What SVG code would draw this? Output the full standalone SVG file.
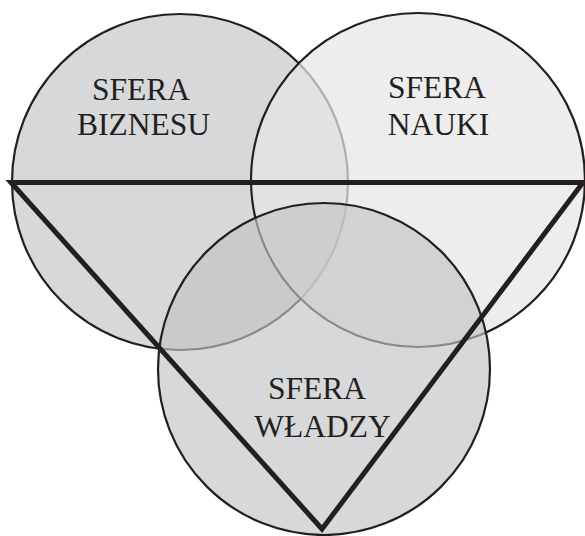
<svg xmlns="http://www.w3.org/2000/svg" width="585" height="536" viewBox="0 0 585 536">
<style>
.c{stroke:#231f20;stroke-width:2.2}
.t{font-family:"Liberation Serif","Times New Roman",serif;font-size:31.5px;fill:#231f20;text-anchor:middle}
</style>
<rect width="585" height="536" fill="#ffffff"/>
<g id="biznes">
<circle class="c" cx="180" cy="182" r="168" fill="#d7d8da"/>
<text class="t" x="141" y="100">SFERA</text>
<text class="t" x="143.5" y="135">BIZNESU</text>
</g>
<g id="nauka">
<circle class="c" cx="418" cy="180" r="167" fill="#e6e6e8" fill-opacity="0.72"/>
<text class="t" x="437" y="98">SFERA</text>
<text class="t" x="438.5" y="135">NAUKI</text>
</g>
<g id="wladza">
<circle class="c" cx="324" cy="369" r="166" fill="#c2c3c5" fill-opacity="0.65"/>
<text class="t" x="317" y="399">SFERA</text>
<text class="t" x="322.5" y="437">WŁADZY</text>
</g>
<g id="connectors">
<polygon points="11,182.5 583,182.5 322,529" fill="none" stroke="#231f20" stroke-width="5" stroke-linejoin="miter"/>
</g>
</svg>
